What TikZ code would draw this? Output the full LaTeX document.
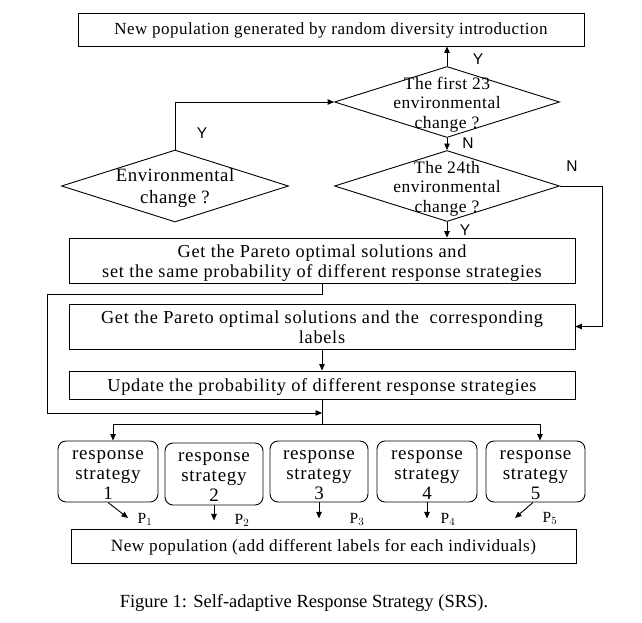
\documentclass[tikz,border=0pt]{standalone}
\usepackage{fontspec}
\setmainfont{Liberation Serif}
\newfontfamily\dfont[LetterSpace=3]{Liberation Serif}
\newfontfamily\sfont[LetterSpace=4]{Liberation Serif}
\newfontfamily\lfont{Liberation Sans}
\usetikzlibrary{shapes.geometric,arrows.meta}
\newcommand{\ctxt}[2]{\smash{\makebox[0pt]{\raisebox{-#1pt}{\begin{tabular}{@{}c@{}}#2\end{tabular}}}}}
\begin{document}
\begin{tikzpicture}[x=1pt,y=-1pt,
  ln/.style={line width=0.9pt},
  arr/.style={ln,-{Triangle[length=6.5pt,width=5.5pt]}},
  tf/.style={font=\dfont\fontsize{17}{19.5}\selectfont},
  bf/.style={font=\sfont\fontsize{18.3}{20}\selectfont},
  box/.style={draw,ln,tf,minimum width=506pt,inner sep=0pt},
  dia/.style={draw,ln,font=\dfont\fontsize{17.5}{19.5}\selectfont,diamond,inner sep=0pt,minimum width=225pt,minimum height=71pt},
  sbox/.style={draw,ln,rounded corners=8pt,font=\sfont\fontsize{19}{20}\selectfont,minimum width=99pt,minimum height=61pt,inner sep=0pt},
  yn/.style={font=\lfont\fontsize{15.5}{18}\selectfont,inner sep=0pt},
  pl/.style={font=\fontsize{15.5}{17}\selectfont,inner sep=0pt}]
\useasboundingbox (0,0) rectangle (642,622);
% boxes
\node[box,minimum height=33pt] (top) at (331,29.5) {\ctxt{5.5}{New population generated by random diversity introduction}};
\node[dia] (d1) at (447,102) {\ctxt{7}{The first 23\\environmental\\change ?}};
\node[dia,font=\dfont\fontsize{18.8}{22}\selectfont,minimum width=227pt,minimum height=72pt] (d0) at (175,186) {\ctxt{6.5}{Environmental\\change ?}};
\node[dia] (d2) at (447,186) {\ctxt{7}{The 24th\\environmental\\change ?}};
\node[box,bf,minimum height=45pt] (b2) at (322,260.5) {\ctxt{7.8}{Get the Pareto optimal solutions and\\set the same probability of different response strategies}};
\node[box,bf,minimum height=45pt] (b3) at (322,326.5) {\ctxt{7.4}{Get the Pareto optimal solutions and the\ \ corresponding\\labels}};
\node[box,bf,minimum height=28pt] (b4) at (322,385) {\ctxt{6.5}{Update the probability of different response strategies}};
\node[sbox,minimum width=100pt] (s1) at (108,471.5) {\ctxt{8}{response\\strategy\\1}};
\node[sbox,minimum width=98pt,minimum height=62pt] (s2) at (214,474) {\ctxt{8}{response\\strategy\\2}};
\node[sbox,minimum width=98pt] (s3) at (319,471.5) {\ctxt{8}{response\\strategy\\3}};
\node[sbox,minimum width=100pt] (s4) at (427,471.5) {\ctxt{8}{response\\strategy\\4}};
\node[sbox] (s5) at (535.5,471.5) {\ctxt{8}{response\\strategy\\5}};
\node[box,font=\dfont\fontsize{17.2}{20}\selectfont,minimum width=505pt,minimum height=34pt] (bot) at (323.5,546) {\ctxt{6}{New population (add different labels for each individuals)}};
\node[font=\fontsize{18.5}{22}\selectfont,inner sep=0pt] (cap) at (304,603) {Figure 1: Self-adaptive Response Strategy (SRS).};
% labels
\node[yn] (y1) at (478,59) {Y};
\node[yn] (y0) at (202,133) {Y};
\node[yn] (n1) at (468,143) {N};
\node[yn] (n2) at (572,166) {N};
\node[yn] (y2) at (465,230) {Y};
\node[pl] (p1) at (145,519) {P$_1$};
\node[pl] (p2) at (242,520) {P$_2$};
\node[pl] (p3) at (357,519) {P$_3$};
\node[pl] (p4) at (448,519) {P$_4$};
\node[pl] (p5) at (550,518) {P$_5$};
% coordinates
\coordinate (rc) at (602,186);
\coordinate (lp) at (47,294);
\coordinate (jn) at (322,413);
\coordinate (br) at (322,424);
\coordinate (e1) at (128,518);
\coordinate (e5) at (515,518);
% connectors
\draw[arr] (d1.north) -- (d1.north |- top.south);
\draw[arr] (d0.north) |- (d1.west);
\draw[arr] (d1.south) -- (d2.north);
\draw[arr] (d2.east) -- (rc) |- (b3.east);
\draw[arr] (d2.south) -- (d2.south |- b2.north);
\draw[arr] (b2.south) |- (lp) |- (jn);
\draw[arr] (b3.south) -- (b4.north);
\draw[ln] (b4.south) -- (br);
\draw[arr] (br) -| ([xshift=5pt]s1.north);
\draw[arr] (br) -| ([xshift=4.5pt]s5.north);
\draw[arr] (s1.south) -- (e1);
\draw[arr] (s2.south) -- ++(0,15);
\draw[arr] (s3.south) -- ++(0,16);
\draw[arr] (s4.south) -- ++(0,16);
\draw[arr] ([xshift=-2.5pt]s5.south) -- (e5);
\end{tikzpicture}
\end{document}
